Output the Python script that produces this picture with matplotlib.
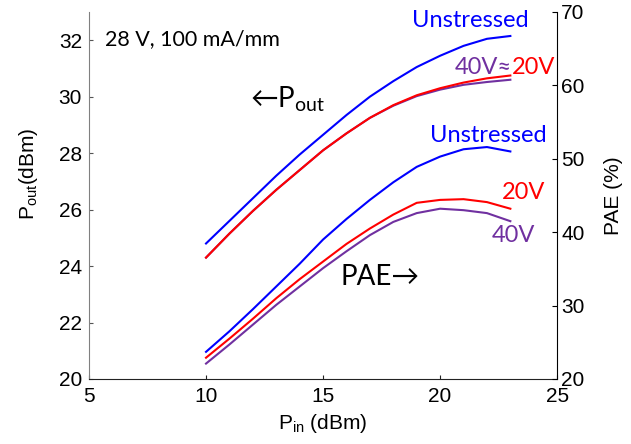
import matplotlib
matplotlib.use("Agg")
import matplotlib.pyplot as plt

# Input power sweep (dBm)
pin = [10, 11, 12, 13, 14, 15, 16, 17, 18, 19, 20, 21, 22, 23]

# Output power (dBm)
pout_unstressed = [24.8, 25.6, 26.4, 27.2, 27.95, 28.65, 29.35, 30.0, 30.55, 31.05, 31.45, 31.8, 32.05, 32.15]
pout_20v = [24.3, 25.15, 25.95, 26.7, 27.4, 28.1, 28.7, 29.25, 29.7, 30.05, 30.3, 30.5, 30.65, 30.75]
pout_40v = [24.3, 25.15, 25.95, 26.7, 27.4, 28.1, 28.7, 29.25, 29.68, 30.02, 30.25, 30.42, 30.52, 30.6]

# Power-added efficiency (%)
pae_unstressed = [23.7, 26.5, 29.5, 32.6, 35.7, 39.0, 41.8, 44.4, 46.8, 48.9, 50.3, 51.3, 51.6, 51.0]
pae_20v = [22.9, 25.5, 28.2, 31.0, 33.6, 36.0, 38.4, 40.5, 42.4, 44.0, 44.4, 44.5, 44.1, 43.2]
pae_40v = [22.1, 24.7, 27.4, 30.1, 32.6, 35.1, 37.4, 39.6, 41.4, 42.6, 43.2, 43.0, 42.6, 41.5]

BLUE = "#0000FF"
RED = "#FF0000"
PURPLE = "#7030A0"

AX_FONT = ["Liberation Sans", "DejaVu Sans"]
NOTE_FONT = ["Lato", "DejaVu Sans"]

fig = plt.figure(figsize=(6.31, 4.44), dpi=100)
ax1 = fig.add_axes([0.141, 0.1464, 0.742, 0.8266])
ax2 = ax1.twinx()

lw = 1.5
ax1.plot(pin, pout_unstressed, color=BLUE, lw=lw)
ax1.plot(pin, pout_40v, color=PURPLE, lw=lw)
ax1.plot(pin, pout_20v, color=RED, lw=lw)
ax2.plot(pin, pae_unstressed, color=BLUE, lw=lw)
ax2.plot(pin, pae_20v, color=RED, lw=lw)
ax2.plot(pin, pae_40v, color=PURPLE, lw=lw)

ax1.set_xlim(5, 25)
ax1.set_ylim(20, 33)
ax2.set_ylim(20, 70)
ax1.set_xticks([5, 10, 15, 20, 25])
ax1.set_yticks([20, 22, 24, 26, 28, 30, 32])
ax2.set_yticks([20, 30, 40, 50, 60, 70])

ax1.spines["top"].set_visible(False)
ax2.spines["top"].set_visible(False)
ax1.spines["right"].set_visible(False)
ax2.spines["left"].set_visible(False)
ax2.spines["bottom"].set_visible(False)
ax1.spines["left"].set_color("#808080")
ax1.spines["bottom"].set_color("#222222")
ax2.spines["right"].set_color("#000000")

ax1.tick_params(axis="x", direction="in", length=3, width=0.8, pad=6,
                labelsize=15, top=False, color="#222222")
ax1.tick_params(axis="y", direction="in", length=3, width=0.8, pad=5,
                labelsize=15, color="#555555")
ax2.tick_params(axis="y", direction="in", length=3.5, width=0.8, pad=3,
                labelsize=15)
for lab in ax1.get_xticklabels() + ax1.get_yticklabels() + ax2.get_yticklabels():
    lab.set_family(AX_FONT)

ax1.set_ylabel(r"P$_\mathregular{out}$(dBm)", fontsize=15, family=AX_FONT)
ax2.set_ylabel("PAE (%)", fontsize=15, family=AX_FONT)
ax1.set_xlabel(r"P$_\mathregular{in}$ (dBm)", fontsize=15, family=AX_FONT)
ax1.yaxis.set_label_coords(-0.105, 0.56)
ax2.yaxis.set_label_coords(1.10, 0.5)
ax1.xaxis.set_label_coords(0.5, -0.09)

# Annotations
fs = 17
ax1.text(5.68, 32.05, "28 V, 100 mA/mm", fontsize=15.5, family=NOTE_FONT,
         color="black", va="center", ha="left")
ax1.text(11.88, 29.9, r"←P$_\mathregular{out}$", fontsize=20, family=NOTE_FONT,
         color="black", va="center", ha="left")
ax1.text(15.73, 23.6, "PAE→", fontsize=20, family=NOTE_FONT,
         color="black", va="center", ha="left")
ax1.text(18.8, 32.69, "Unstressed", fontsize=fs, family=NOTE_FONT,
         color=BLUE, va="center", ha="left")
t40 = ax1.text(20.64, 31.02, "40V≈", fontsize=fs, family=NOTE_FONT,
               color=PURPLE, va="center", ha="left")
ax1.annotate("20V", xy=(1, 0.5), xycoords=t40, fontsize=fs, family=NOTE_FONT,
             color=RED, va="center", ha="left")
ax1.text(19.57, 28.62, "Unstressed", fontsize=fs, family=NOTE_FONT,
         color=BLUE, va="center", ha="left")
ax1.text(22.65, 26.61, "20V", fontsize=fs, family=NOTE_FONT,
         color=RED, va="center", ha="left")
ax1.text(22.22, 25.09, "40V", fontsize=fs, family=NOTE_FONT,
         color=PURPLE, va="center", ha="left")

fig.savefig("out.png", dpi=100)
